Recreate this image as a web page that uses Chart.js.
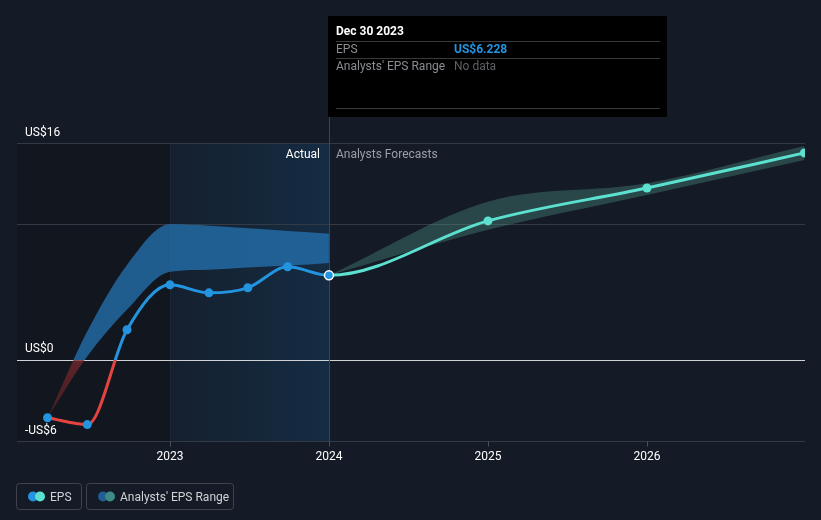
<!DOCTYPE html>
<html>
<head>
<meta charset="utf-8">
<script src="https://cdn.jsdelivr.net/npm/chart.js@4.4.0/dist/chart.umd.min.js"></script>
<style>
  html, body { margin: 0; padding: 0; background: #151b26; }
  #wrap { width: 821px; height: 520px; }
</style>
</head>
<body>
<div id="wrap"><canvas id="epsChart" width="821" height="520"></canvas></div>
<script>
// valores (anos em decimal)
const actualX = [2022.23, 2022.48, 2022.73, 2023.0, 2023.245, 2023.49, 2023.74, 2024.0];
const actualEps = [-4.28, -4.79, 2.21, 5.53, 4.94, 5.31, 6.86, 6.228];
const actualHigh = [-4.28, 2.1, 7.0, 10.0, 9.9, 9.7, 9.5, 9.3];
const actualLow = [-4.28, 0.25, 3.7, 6.5, 6.65, 6.8, 6.95, 7.15];

const forecastX = [2024.0, 2025.0, 2026.0, 2026.99];
const forecastEps = [6.228, 10.25, 12.68, 15.27];
const forecastHigh = [6.228, 11.67, 13.03, 15.78];
const forecastLow = [6.228, 9.59, 12.17, 14.75];

const yTicks = [16, 0, -6];
const yTickLabels = ['US$16', 'US$0', '-US$6'];
const gridValues = [16, 10, -6];
const xTicks = [2023, 2024, 2025, 2026];
const xTickLabels = ['2023', '2024', '2025', '2026'];

const tooltipDate = 'Dec 30 2023';
const tooltipEps = 'US$6.228';

const FONT = 'Roboto, "Open Sans", sans-serif';
const lastActual = actualX[actualX.length - 1];

function toPoints(xs, ys) {
    return xs.map((x, i) => ({ x: x, y: ys[i] }));
}

// série única: real + previsão (sem repetir o ponto de 2024)
const epsPoints = toPoints(actualX, actualEps).concat(toPoints(forecastX.slice(1), forecastEps.slice(1)));
const nActual = actualX.length;

// gradiente vertical com corte no zero
function zeroSplit(chart, above, belowTop, belowBottom) {
    const area = chart.chartArea;
    if (!area) return above;
    const y = chart.scales.y;
    const g = chart.ctx.createLinearGradient(0, area.top, 0, area.bottom);
    let f = (y.getPixelForValue(0) - area.top) / (area.bottom - area.top);
    f = Math.min(Math.max(f, 0), 1);
    g.addColorStop(0, above);
    g.addColorStop(f, above);
    g.addColorStop(f, belowTop);
    g.addColorStop(1, belowBottom);
    return g;
}

const backdrop = {
    id: 'backdrop',
    beforeDraw(chart) {
        const ctx = chart.ctx;
        const a = chart.chartArea;
        const x = chart.scales.x;
        const y = chart.scales.y;
        ctx.save();
        ctx.fillStyle = '#151b26';
        ctx.fillRect(0, 0, chart.width, chart.height);

        const x23 = x.getPixelForValue(2023);
        const x24 = x.getPixelForValue(2024);
        ctx.fillStyle = '#12161e';
        ctx.fillRect(a.left, a.top, x23 - a.left, a.bottom - a.top);
        const g = ctx.createLinearGradient(x23, 0, x24, 0);
        g.addColorStop(0, 'rgba(20,70,110,0.12)');
        g.addColorStop(1, 'rgba(20,80,130,0.32)');
        ctx.fillStyle = g;
        ctx.fillRect(x23, a.top, x24 - x23, a.bottom - a.top);
        ctx.fillStyle = 'rgba(255,255,255,0.04)';
        ctx.fillRect(Math.round(x23), a.top, 1, a.bottom - a.top);

        // linhas de grade
        ctx.lineWidth = 1;
        gridValues.forEach(v => {
            const py = Math.round(y.getPixelForValue(v)) + 0.5;
            ctx.strokeStyle = '#343a45';
            ctx.beginPath();
            ctx.moveTo(a.left, py);
            ctx.lineTo(a.right, py);
            ctx.stroke();
        });
        const py0 = Math.round(y.getPixelForValue(0)) + 0.5;
        ctx.strokeStyle = '#d0d2d6';
        ctx.beginPath();
        ctx.moveTo(a.left, py0);
        ctx.lineTo(a.right, py0);
        ctx.stroke();

        // marcas do eixo x
        ctx.strokeStyle = '#4a505b';
        const bottom = Math.round(y.getPixelForValue(-6)) + 0.5;
        xTicks.forEach(t => {
            const px = Math.round(x.getPixelForValue(t)) + 0.5;
            ctx.beginPath();
            ctx.moveTo(px, bottom);
            ctx.lineTo(px, bottom + 5);
            ctx.stroke();
        });

        // linha vertical do tooltip
        ctx.strokeStyle = '#1d4f74';
        ctx.beginPath();
        ctx.moveTo(Math.round(x24) + 0.5, 117);
        ctx.lineTo(Math.round(x24) + 0.5, bottom);
        ctx.stroke();
        ctx.restore();
    },
    afterDraw(chart) {
        const ctx = chart.ctx;
        const x = chart.scales.x;
        const y = chart.scales.y;
        ctx.save();
        ctx.textBaseline = 'middle';

        // rótulos do eixo y
        ctx.font = '12px ' + FONT;
        ctx.fillStyle = '#ffffff';
        ctx.textAlign = 'left';
        yTicks.forEach((v, i) => {
            ctx.fillText(yTickLabels[i], 25, y.getPixelForValue(v) - 10.5);
        });

        // rótulos do eixo x
        ctx.textAlign = 'center';
        xTicks.forEach((t, i) => {
            ctx.fillText(xTickLabels[i], x.getPixelForValue(t), y.getPixelForValue(-6) + 15.5);
        });

        // Actual / Analysts Forecasts
        const x24 = x.getPixelForValue(2024);
        ctx.textAlign = 'right';
        ctx.fillStyle = '#ffffff';
        ctx.fillText('Actual', x24 - 9, 155);
        ctx.textAlign = 'left';
        ctx.fillStyle = '#9a9ea6';
        ctx.fillText('Analysts Forecasts', x24 + 7, 155);

        // caixa do tooltip
        const bx = Math.round(x24) - 1;
        ctx.fillStyle = '#000000';
        ctx.fillRect(bx, 16, 339, 101);
        ctx.strokeStyle = '#3a3a3a';
        ctx.lineWidth = 1;
        [41.5, 58.5, 108.5].forEach(ly => {
            ctx.beginPath();
            ctx.moveTo(bx + 8, ly);
            ctx.lineTo(bx + 332, ly);
            ctx.stroke();
        });
        ctx.font = 'bold 12px ' + FONT;
        ctx.fillStyle = '#ffffff';
        ctx.fillText(tooltipDate, bx + 8, 32);
        ctx.font = '12px ' + FONT;
        ctx.fillStyle = '#8a8d93';
        ctx.fillText('EPS', bx + 8, 50);
        ctx.fillText("Analysts' EPS Range", bx + 8, 67);
        ctx.font = 'bold 12px ' + FONT;
        ctx.fillStyle = '#2394df';
        ctx.fillText(tooltipEps, bx + 126, 50);
        ctx.font = '12px ' + FONT;
        ctx.fillStyle = '#5d6066';
        ctx.fillText('No data', bx + 126, 67);

        // legenda
        function box(x0, w) {
            ctx.strokeStyle = '#3e434d';
            ctx.beginPath();
            ctx.roundRect(x0 + 0.5, 483.5, w, 26, 3);
            ctx.stroke();
        }
        function dot(cx, color) {
            ctx.fillStyle = color;
            ctx.beginPath();
            ctx.arc(cx, 496.5, 5, 0, Math.PI * 2);
            ctx.fill();
        }
        box(16, 65);
        dot(33, '#2394df');
        dot(40, '#5ce1d0');
        ctx.fillStyle = '#d0d2d6';
        ctx.fillText('EPS', 50, 497.5);
        box(86, 147);
        dot(103, '#1f5f93');
        dot(110, '#3d8a87');
        ctx.fillStyle = '#d0d2d6';
        ctx.fillText("Analysts' EPS Range", 120, 497.5);
        ctx.restore();
    }
};

const ctx = document.getElementById('epsChart').getContext('2d');
const epsChart = new Chart(ctx, {
    type: 'line',
    data: {
        datasets: [
            {
                label: 'Actual high',
                data: toPoints(actualX, actualHigh),
                borderWidth: 0,
                pointRadius: 0,
                cubicInterpolationMode: 'monotone',
                fill: '+1',
                backgroundColor: c => zeroSplit(c.chart, 'rgba(35,110,170,0.8)', 'rgba(120,40,45,0.75)', 'rgba(90,35,40,0.55)'),
                order: 3
            },
            {
                label: 'Actual low',
                data: toPoints(actualX, actualLow),
                borderWidth: 0,
                pointRadius: 0,
                cubicInterpolationMode: 'monotone',
                fill: false,
                order: 3
            },
            {
                label: 'Forecast high',
                data: toPoints(forecastX, forecastHigh),
                borderWidth: 0,
                pointRadius: 0,
                cubicInterpolationMode: 'monotone',
                fill: '+1',
                backgroundColor: 'rgba(85,165,150,0.32)',
                order: 3
            },
            {
                label: 'Forecast low',
                data: toPoints(forecastX, forecastLow),
                borderWidth: 0,
                pointRadius: 0,
                cubicInterpolationMode: 'monotone',
                fill: false,
                order: 3
            },
            {
                label: 'EPS',
                data: epsPoints,
                borderWidth: 3,
                borderColor: c => zeroSplit(c.chart, '#2394df', '#e5433f', '#e5433f'),
                segment: {
                    borderColor: s => s.p0.parsed.x >= lastActual ? '#5ce1d0' : undefined
                },
                cubicInterpolationMode: 'monotone',
                pointRadius: 4.5,
                pointBackgroundColor: epsPoints.map((p, i) => i < nActual ? '#2394df' : '#5ce1d0'),
                pointBorderColor: epsPoints.map((p, i) => i === nActual - 1 ? '#ffffff' : 'rgba(0,0,0,0)'),
                pointBorderWidth: epsPoints.map((p, i) => i === nActual - 1 ? 1.5 : 0),
                fill: false,
                order: 0
            }
        ]
    },
    options: {
        responsive: false,
        animation: false,
        layout: { padding: { left: 17, right: 16, top: 143, bottom: 79 } },
        scales: {
            x: { type: 'linear', min: 2022.038, max: 2026.994, display: false },
            y: { type: 'linear', min: -6, max: 16, display: false }
        },
        plugins: {
            legend: { display: false },
            tooltip: { enabled: false }
        },
        events: []
    },
    plugins: [backdrop]
});
</script>
</body>
</html>
